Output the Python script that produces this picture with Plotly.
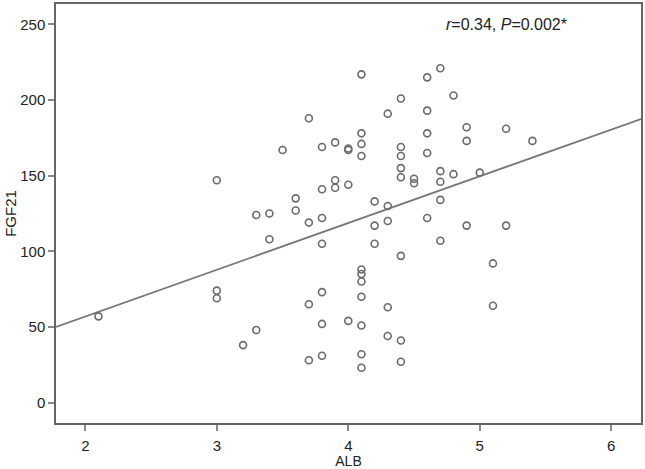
import plotly.graph_objects as go

alb = [2.1, 3.0, 3.0, 3.0, 3.2, 3.3, 3.3, 3.4, 3.4, 3.5,
       3.6, 3.6, 3.7, 3.7, 3.7, 3.7, 3.8, 3.8, 3.8, 3.8,
       3.8, 3.8, 3.8, 3.9, 3.9, 3.9, 4.0, 4.0, 4.0, 4.0,
       4.1, 4.1, 4.1, 4.1, 4.1, 4.1, 4.1, 4.1, 4.1, 4.1,
       4.1, 4.2, 4.2, 4.2, 4.3, 4.3, 4.3, 4.3, 4.3, 4.4,
       4.4, 4.4, 4.4, 4.4, 4.4, 4.4, 4.4, 4.5, 4.5, 4.6,
       4.6, 4.6, 4.6, 4.6, 4.7, 4.7, 4.7, 4.7, 4.7, 4.8,
       4.8, 4.9, 4.9, 4.9, 5.0, 5.1, 5.1, 5.2, 5.2, 5.4]
fgf21 = [57, 147, 74, 69, 38, 48, 124, 125, 108, 167,
         135, 127, 188, 119, 65, 28, 169, 141, 122, 105,
         73, 52, 31, 172, 147, 142, 168, 167, 144, 54,
         217, 178, 171, 163, 88, 85, 80, 70, 51, 32,
         23, 133, 117, 105, 191, 130, 120, 63, 44, 201,
         169, 163, 155, 149, 97, 41, 27, 148, 145, 215,
         193, 178, 165, 122, 221, 153, 146, 134, 107, 203,
         151, 182, 173, 117, 152, 92, 64, 181, 117, 173]

fit_intercept = -4.9
fit_slope = 30.9
x_range = [1.777, 6.226]
y_range = [-13.5, 263.5]
x_ticks = [2, 3, 4, 5, 6]
y_ticks = [0, 50, 100, 150, 200, 250]
stat_text = "<i>r</i>=0.34, <i>P</i>=0.002*"

fit_x = x_range
fit_y = [fit_intercept + fit_slope * v for v in fit_x]

gray = "#6b6b6b"
fig = go.Figure()
fig.add_trace(go.Scatter(
    x=fit_x, y=fit_y, mode="lines",
    line=dict(color="#777777", width=1.8), showlegend=False, hoverinfo="skip"))
fig.add_trace(go.Scatter(
    x=alb, y=fgf21, mode="markers",
    marker=dict(symbol="circle-open", size=7, color=gray, line=dict(width=1.6, color=gray)),
    showlegend=False))

font = dict(family="Liberation Sans, Arial, sans-serif", color="#222222")
fig.update_layout(
    width=645, height=469,
    margin=dict(l=56, r=4, t=2, b=43),
    paper_bgcolor="white", plot_bgcolor="white",
    font=dict(**font, size=15),
    xaxis=dict(range=x_range, tickvals=x_ticks, showgrid=False, zeroline=False,
               showline=True, linecolor="#666666", linewidth=1.5, mirror=True,
               ticks="outside", ticklen=6, tickcolor="#888888", tickwidth=1.5,
               ticklabelstandoff=2,
               tickfont=dict(size=15), title=dict(text="ALB", font=dict(size=14), standoff=3)),
    yaxis=dict(range=y_range, tickvals=y_ticks, showgrid=False, zeroline=False,
               showline=True, linecolor="#666666", linewidth=1.5, mirror=True,
               ticks="outside", ticklen=6, tickcolor="#888888", tickwidth=1.5,
               tickfont=dict(size=15), title=dict(text="FGF21", font=dict(size=15), standoff=0)),
    annotations=[dict(x=5.2, y=250, xref="x", yref="y", text=stat_text, showarrow=False,
                      font=dict(size=16, color="#222222"))],
)
fig.write_html("out.html", config={"displayModeBar": False},
               post_script="document.body.style.margin='0';document.body.style.overflow='hidden';")
